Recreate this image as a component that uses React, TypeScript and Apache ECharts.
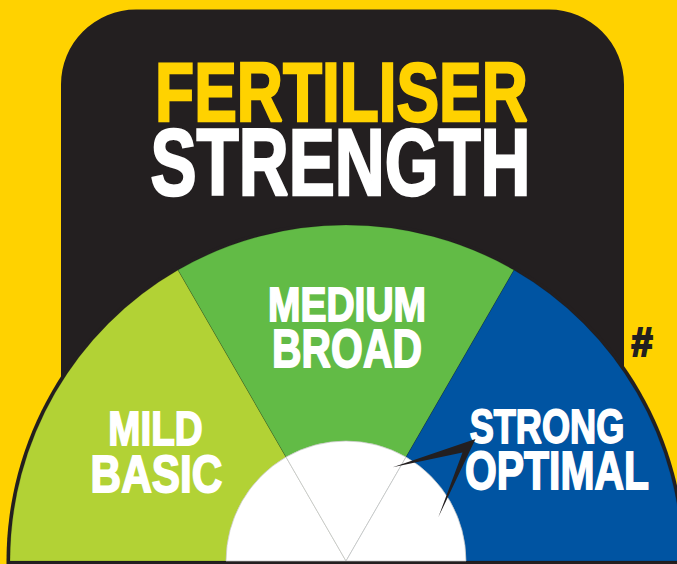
import React, { useEffect, useRef } from "react";
import * as echarts from "echarts";

const titleLines = ["FERTILISER", "STRENGTH"];
const segmentNames = ["MILD", "MEDIUM", "STRONG"];
const segmentSubNames = ["BASIC", "BROAD", "OPTIMAL"];
const segmentValues = [1, 1, 1];
const hiddenHalf = 3;
const footnoteMark = "#";

const YELLOW = "#FFD200";
const BLACK = "#231F20";
const SEG_COLORS = ["#B2D235", "#62BB46", "#0054A2"];
const FONT = "'Liberation Sans', Arial, sans-serif";

const CX = 346;
const CY = 561;

function txt(text: string, x: number, y: number, size: number, sx: number, color: string, border = 1.2) {
  return {
    type: "text",
    x,
    y,
    scaleX: sx,
    z: 20,
    silent: true,
    style: {
      text,
      fill: color,
      font: `bold ${size}px ${FONT}`,
      align: "center",
      verticalAlign: "middle",
      stroke: color,
      lineWidth: border,
    },
  };
}

export default function App() {
  const ref = useRef<HTMLDivElement>(null);
  useEffect(() => {
    document.body.style.margin = "0";
    if (!ref.current) return;
    const chart = echarts.init(ref.current, null, { renderer: "svg" });
    const outerData = segmentValues.map((v, i) => ({
      value: v,
      name: segmentNames[i],
      itemStyle: { color: SEG_COLORS[i], borderColor: "rgba(0,0,0,0.25)", borderWidth: 0.6 },
    }));
    outerData.push({ value: hiddenHalf, name: "", itemStyle: { color: "transparent", borderColor: "transparent", borderWidth: 0 } });
    const innerData = segmentValues.map((v, i) => ({
      value: v,
      name: segmentSubNames[i],
      itemStyle: { color: "#FFFFFF", borderColor: "#C4C4C4", borderWidth: 0.7 },
    }));
    innerData.push({ value: hiddenHalf, name: "", itemStyle: { color: "transparent", borderColor: "transparent", borderWidth: 0 } });

    chart.setOption({
      animation: false,
      backgroundColor: YELLOW,
      graphic: [
        { type: "rect", z: 0, silent: true, shape: { x: 61, y: 9.5, width: 563, height: 560, r: [75, 75, 0, 0] }, style: { fill: BLACK } },
        { type: "circle", z: 0, silent: true, shape: { cx: CX, cy: CY, r: 339.5 }, style: { fill: BLACK } },
        txt(titleLines[0], 341.5, 92, 83, 0.77, YELLOW, 2.4),
        txt(titleLines[1], 340.5, 162, 94, 0.735, "#FFFFFF", 2.6),
        txt(segmentNames[0], 155.5, 428, 48.9, 0.79, "#FFFFFF", 1.8),
        txt(segmentSubNames[0], 156.5, 474, 51.7, 0.82, "#FFFFFF", 1.8),
        txt(segmentNames[1], 347, 304.5, 47.5, 0.82, "#FFFFFF", 1.8),
        txt(segmentSubNames[1], 347, 348, 54.5, 0.75, "#FFFFFF", 1.8),
        txt(segmentNames[2], 547, 426, 48.9, 0.74, "#FFFFFF", 1.8),
        txt(segmentSubNames[2], 557, 470, 54.5, 0.75, "#FFFFFF", 1.8),
        txt(footnoteMark, 642, 342, 40, 0.95, BLACK, 2),
        {
          type: "polygon",
          z: 25,
          silent: true,
          shape: { points: [[475.5, 439], [392.7, 467.3], [462.5, 452.5], [438.3, 517.3]] },
          style: { fill: BLACK },
        },
      ],
      series: [
        {
          type: "pie",
          z: 2,
          silent: true,
          center: [CX, CY],
          radius: [0, 336],
          startAngle: 180,
          clockwise: true,
          label: { show: false },
          labelLine: { show: false },
          emphasis: { disabled: true },
          data: outerData,
        },
        {
          type: "pie",
          z: 3,
          silent: true,
          center: [CX, CY],
          radius: [0, 120],
          startAngle: 180,
          clockwise: true,
          label: { show: false },
          labelLine: { show: false },
          emphasis: { disabled: true },
          data: innerData,
        },
      ],
    });
    return () => chart.dispose();
  }, []);
  return <div ref={ref} style={{ width: 677, height: 564 }} />;
}
